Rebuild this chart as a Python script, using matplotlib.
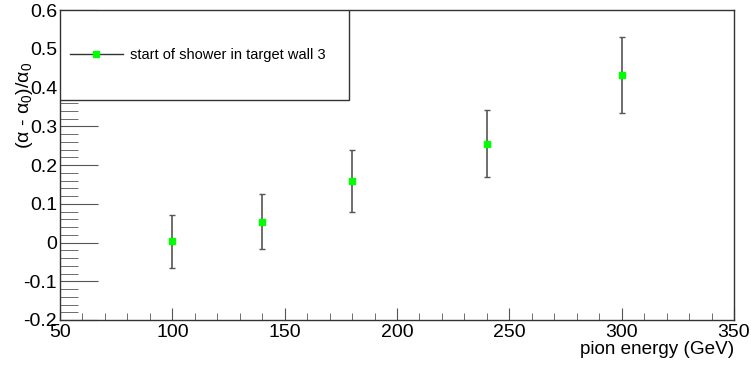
import numpy as np
import matplotlib
matplotlib.use("Agg")
import matplotlib.pyplot as plt
from matplotlib.patches import Rectangle
from matplotlib.lines import Line2D
from matplotlib.ticker import MultipleLocator

plt.rcParams['font.family'] = ['Liberation Sans', 'DejaVu Sans']
plt.rcParams['mathtext.fontset'] = 'custom'
plt.rcParams['mathtext.rm'] = 'Liberation Sans'

# pion energy scan, shower starting in target wall 3
energy = [100, 140, 180, 240, 300]
rel_shift = [0.003, 0.054, 0.160, 0.255, 0.433]
rel_err = [0.068, 0.072, 0.080, 0.087, 0.098]

fig = plt.figure(figsize=(7.51, 3.65), dpi=100)
ax = fig.add_axes([60 / 751, 45 / 365, 674 / 751, 310 / 365])

ax.errorbar(energy, rel_shift, yerr=rel_err, fmt='s', color='#00ff00',
            markersize=5, ecolor='#555555', elinewidth=1.2, capsize=2,
            capthick=1)

ax.set_xlim(50, 350)
ax.set_ylim(-0.2, 0.6)
ax.xaxis.set_major_locator(MultipleLocator(50))
ax.xaxis.set_minor_locator(MultipleLocator(10))
ax.yaxis.set_major_locator(MultipleLocator(0.1))
ax.yaxis.set_minor_locator(MultipleLocator(0.02))
ax.yaxis.set_major_formatter(plt.FuncFormatter(lambda v, p: '%g' % round(v, 2)))

ax.tick_params(which='both', direction='in', top=False, right=False,
               labelsize=14, color='#555555')
ax.tick_params(axis='x', which='major', length=9, pad=3)
ax.tick_params(axis='x', which='minor', length=5)
ax.tick_params(axis='y', which='major', length=27, pad=2)
ax.tick_params(axis='y', which='minor', length=13)
for s in ax.spines.values():
    s.set_color('#333333')
    s.set_linewidth(1)

ax.text(1.0, -0.068, 'pion energy (GeV)', transform=ax.transAxes,
        ha='right', va='top', fontsize=13.6)
ax.text(-0.052, 0.832, r'(α - α$_\mathrm{0}$)/α$_\mathrm{0}$', transform=ax.transAxes,
        ha='center', va='top', rotation=90, fontsize=14)

# legend box
ax.add_patch(Rectangle((0, 0.71), 0.429, 0.29, transform=ax.transAxes,
                       fill=True, facecolor='white', edgecolor='#333333',
                       linewidth=1, zorder=3))
handle = Line2D([], [], color='#333333', linewidth=1, marker='s',
                markersize=5, markerfacecolor='#00ff00',
                markeredgecolor='#00ff00')
leg = ax.legend([handle], ['start of shower in target wall 3'],
                loc='center left', bbox_to_anchor=(0.0, 0.855), frameon=False,
                fontsize=10.5, handlelength=3.6, handletextpad=0.5,
                borderaxespad=0.3)
leg.set_zorder(4)

fig.savefig('out.png', dpi=100)
